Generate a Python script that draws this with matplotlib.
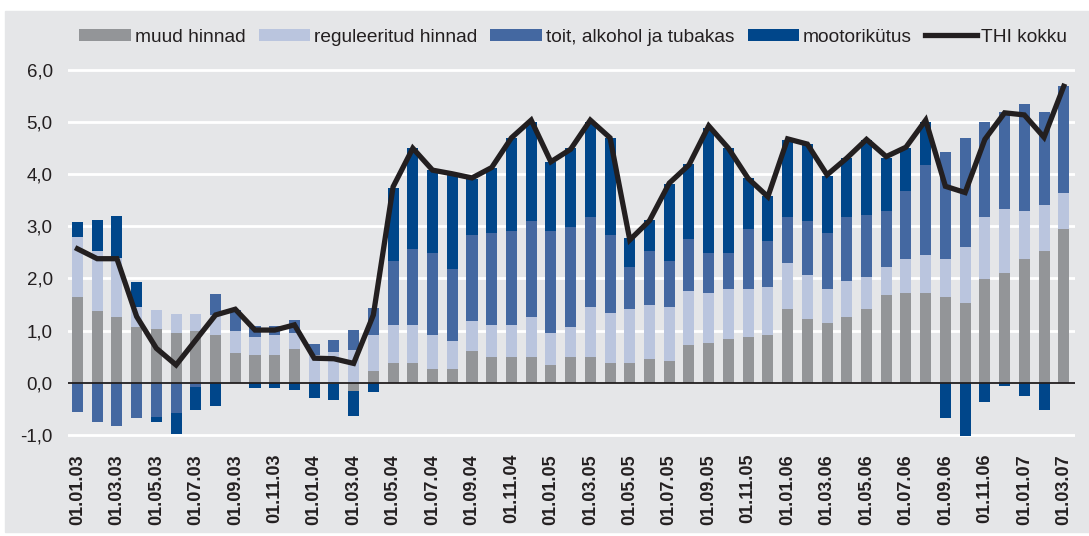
import numpy as np
import matplotlib.pyplot as plt
from matplotlib.patches import Rectangle

# contributions to CPI growth, % (monthly 01.01.03 ... 01.03.07)
muud = [1.64, 1.38, 1.26, 1.07, 1.03, 0.95, 0.99, 0.91, 0.57, 0.53, 0.53, 0.65, 0.02,
        -0.03, -0.15, 0.22, 0.38, 0.38, 0.26, 0.26, 0.61, 0.49, 0.49, 0.49, 0.34, 0.49,
        0.49, 0.38, 0.38, 0.45, 0.42, 0.72, 0.76, 0.84, 0.88, 0.91, 1.41, 1.22, 1.15,
        1.26, 1.41, 1.68, 1.72, 1.72, 1.64, 1.53, 1.99, 2.10, 2.37, 2.53, 2.95]
reguleeritud = [1.16, 1.15, 1.13, 0.38, 0.36, 0.37, 0.33, 0.39, 0.42, 0.35, 0.39, 0.30, 0.51,
                0.58, 0.62, 0.69, 0.73, 0.73, 0.65, 0.54, 0.57, 0.62, 0.62, 0.77, 0.61, 0.58,
                0.96, 0.96, 1.03, 1.04, 1.03, 1.04, 0.96, 0.96, 0.92, 0.93, 0.89, 0.85, 0.65,
                0.69, 0.62, 0.54, 0.65, 0.73, 0.73, 1.07, 1.19, 1.23, 0.92, 0.88, 0.69]
toit = [-0.56, -0.75, -0.83, -0.68, -0.66, -0.58, -0.08, 0.40, 0.40, 0.21, 0.17, 0.26, 0.21,
        0.24, 0.39, 0.52, 1.23, 1.46, 1.58, 1.38, 1.65, 1.76, 1.80, 1.84, 1.96, 1.92,
        1.73, 1.49, 0.81, 1.04, 0.89, 1.00, 0.77, 0.69, 1.15, 0.88, 0.88, 1.03, 1.07,
        1.23, 1.19, 1.07, 1.31, 1.73, 2.06, 2.10, 1.82, 1.87, 2.06, 1.79, 2.05]
mootorikytus = [0.28, 0.59, 0.81, 0.48, -0.09, -0.40, -0.45, -0.45, 0.00, -0.10, -0.10, -0.14,
                -0.29, -0.30, -0.48, -0.18, 1.40, 1.93, 1.59, 1.81, 1.08, 1.25, 1.79, 1.90,
                1.33, 1.51, 1.82, 1.87, 0.56, 0.59, 1.47, 1.44, 2.40, 2.01, 0.98, 0.86, 1.48,
                1.48, 1.10, 1.13, 1.44, 1.02, 0.82, 0.82, -0.68, -1.02, -0.37, -0.06, -0.26,
                -0.52, 0.00]
thi_kokku = [2.57, 2.38, 2.38, 1.27, 0.66, 0.34, 0.82, 1.30, 1.41, 1.01, 1.01, 1.11, 0.47,
             0.46, 0.37, 1.30, 3.76, 4.50, 4.08, 4.01, 3.93, 4.13, 4.70, 5.04, 4.24, 4.48,
             5.04, 4.70, 2.74, 3.11, 3.83, 4.18, 4.93, 4.50, 3.92, 3.57, 4.68, 4.58, 3.99,
             4.31, 4.67, 4.34, 4.52, 5.04, 3.77, 3.65, 4.67, 5.18, 5.14, 4.71, 5.69]

tick_labels = ["01.01.03", "01.03.03", "01.05.03", "01.07.03", "01.09.03", "01.11.03",
               "01.01.04", "01.03.04", "01.05.04", "01.07.04", "01.09.04", "01.11.04",
               "01.01.05", "01.03.05", "01.05.05", "01.07.05", "01.09.05", "01.11.05",
               "01.01.06", "01.03.06", "01.05.06", "01.07.06", "01.09.06", "01.11.06",
               "01.01.07", "01.03.07"]

series = [
    ("muud hinnad", muud, "#939598"),
    ("reguleeritud hinnad", reguleeritud, "#bac5de"),
    ("toit, alkohol ja tubakas", toit, "#4468a1"),
    ("mootorikütus", mootorikytus, "#00468a"),
]

bg = "#e5e6e8"
fig = plt.figure(figsize=(10.89, 5.36), dpi=100, facecolor="white")
fig.patches.append(Rectangle((5 / 1089, 1 - 532 / 536), 1084 / 1089, 521 / 536,
                             transform=fig.transFigure, color=bg, zorder=-10))

ax = fig.add_axes([68 / 1089, 1 - 440 / 536, (1075 - 68) / 1089, 375.1 / 536])
ax.set_facecolor("none")

x = np.arange(len(muud))
pos_bottom = np.zeros(len(x))
neg_bottom = np.zeros(len(x))
for name, vals, col in series:
    v = np.array(vals)
    bottom = np.where(v >= 0, pos_bottom, neg_bottom)
    ax.bar(x, v, width=0.56, bottom=bottom, color=col, label=name, zorder=2)
    pos_bottom += np.where(v >= 0, v, 0)
    neg_bottom += np.where(v < 0, v, 0)

ax.plot(x, thi_kokku, color="#231f20", lw=3.8, label="THI kokku", zorder=4,
        solid_joinstyle="miter")
ax.axhline(0, color="#231f20", lw=1.3, zorder=3)

ax.set_xlim(-0.48, 50.57)
ax.set_ylim(-1.1, 6.1)
yt = np.arange(-1, 7)
ax.set_yticks(yt)
ax.set_yticklabels([f"{v:.1f}".replace(".", ",") for v in yt],
                   fontsize=13.5, family="Liberation Sans", color="#231f20")
ax.set_xticks(x[::2])
ax.set_xticklabels(tick_labels, rotation=90, fontsize=13, fontweight="bold",
                   family="Liberation Sans", color="#231f20")
ax.tick_params(length=0, pad=10)
ax.tick_params(axis="y", pad=11)
for s in ax.spines.values():
    s.set_visible(False)
for v in yt:
    if v != 0:
        ax.axhline(v, color="white", lw=2, zorder=1)

handles, labels = ax.get_legend_handles_labels()
handles = handles[1:] + handles[:1]
labels = labels[1:] + labels[:1]
fig.legend(handles, labels, loc="center", bbox_to_anchor=(573 / 1089, 1 - 37 / 536), ncol=5,
           frameon=False, prop={"family": "Liberation Sans", "size": 13.8},
           handlelength=2.7, handleheight=0.62, handletextpad=0.2, columnspacing=0.68,
           labelcolor="#231f20")

fig.savefig("out.png", dpi=100, facecolor="white")
